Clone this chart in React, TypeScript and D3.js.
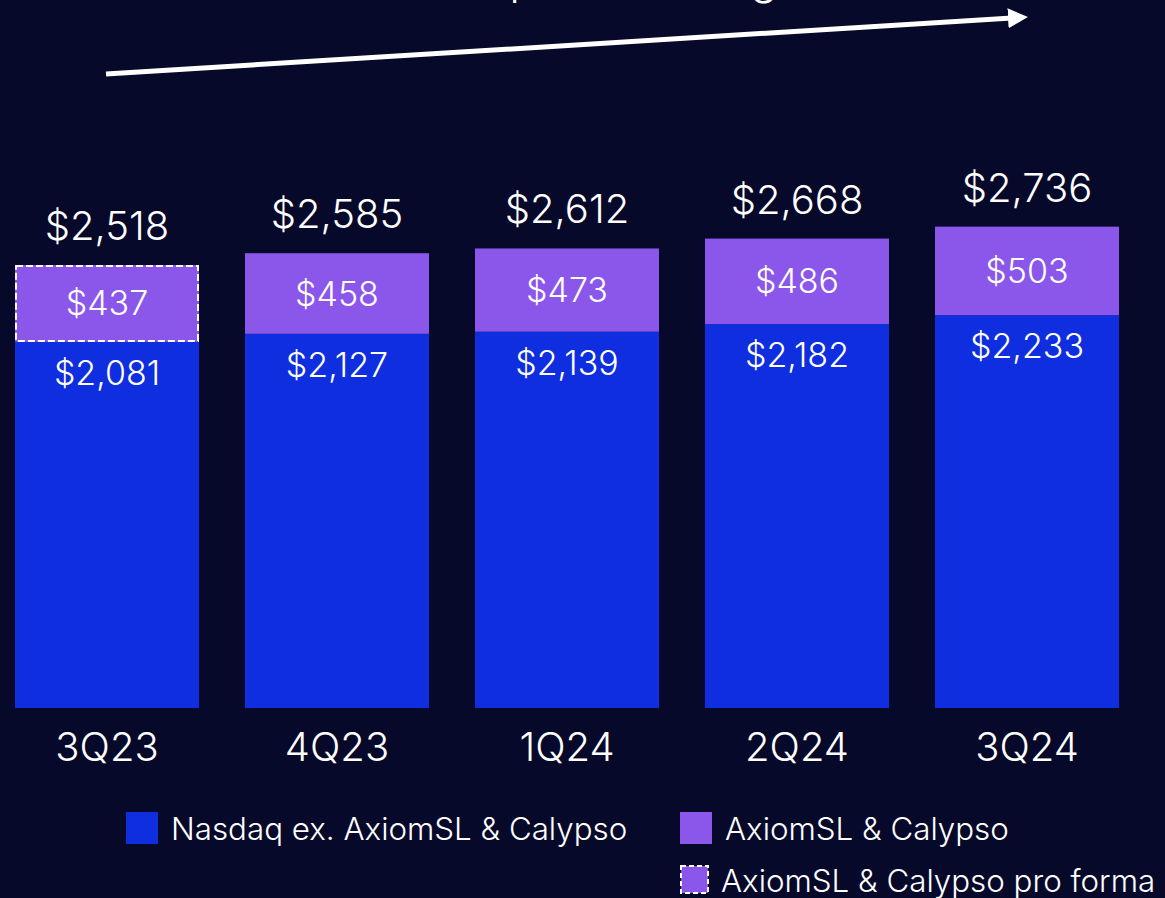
import React from "react";
import * as d3 from "d3";

const categories = ["3Q23", "4Q23", "1Q24", "2Q24", "3Q24"];
const nasdaqEx = [2081, 2127, 2139, 2182, 2233];
const axiom = [437, 458, 473, 486, 503];
const totals = [2518, 2585, 2612, 2668, 2736];
const proForma = [true, false, false, false, false];
const legendItems = ["Nasdaq ex. AxiomSL & Calypso", "AxiomSL & Calypso", "AxiomSL & Calypso pro forma"];

const W = 1165;
const H = 898;
const BG = "#07092a";
const BLUE = "#0e2ee0";
const PURPLE = "#8b57eb";
const FONT = "Inter, 'Noto Sans', sans-serif";

const fmt = (v: number) => "$" + d3.format(",")(v);

const App = () => {
  const x = d3.scaleBand<string>().domain(categories).range([-8, 1142]).paddingInner(0.2).paddingOuter(0.1);
  const y = d3.scaleLinear().domain([0, 2518]).range([708, 265]);
  const bw = x.bandwidth();

  return (
    <svg width={W} height={H} style={{ position: "absolute", left: 0, top: 0, background: BG }}>
      <rect width={W} height={H} fill={BG} />
      <defs>
        <marker id="arrow" viewBox="0 0 10 10" refX="2" refY="5" markerWidth="4" markerHeight="4" orient="auto">
          <path d="M0,0 L10,5 L0,10 z" fill="#fff" />
        </marker>
      </defs>
      <text x={340} y={-6} fill="#fff" fontFamily={FONT} fontWeight={300} fontSize={44}>
        8% compound ARR growth
      </text>
      <line x1={106} y1={74} x2={1012} y2={18} stroke="#fff" strokeWidth={5} markerEnd="url(#arrow)" />

      {categories.map((c, i) => {
        const x0 = x(c)!;
        const cx = x0 + bw / 2;
        const yBlue = y(nasdaqEx[i]);
        const yTop = y(totals[i]);
        return (
          <g key={c}>
            <rect x={x0} y={yBlue} width={bw} height={708 - yBlue} fill={BLUE} />
            <rect x={x0} y={yTop} width={bw} height={yBlue - yTop} fill={PURPLE} />
            {proForma[i] && (
              <rect x={x0 + 1} y={yTop + 1} width={bw - 2} height={yBlue - yTop - 2} fill="none" stroke="#fff" strokeWidth={2} strokeDasharray="7,3" />
            )}
            <text x={cx} y={(yTop + yBlue) / 2 + 12} textAnchor="middle" fill="#fff" fontFamily={FONT} fontWeight={300} fontSize={34}>
              {fmt(axiom[i])}
            </text>
            <text x={cx} y={yBlue + 43} textAnchor="middle" fill="#fff" fontFamily={FONT} fontWeight={300} fontSize={34}>
              {fmt(nasdaqEx[i])}
            </text>
            <text x={cx} y={yTop - 25} textAnchor="middle" fill="#fff" fontFamily={FONT} fontWeight={300} fontSize={40}>
              {fmt(totals[i])}
            </text>
            <text x={cx} y={761} textAnchor="middle" fill="#fff" fontFamily={FONT} fontWeight={300} fontSize={40}>
              {c}
            </text>
          </g>
        );
      })}

      <rect x={126} y={812} width={32} height={32} fill={BLUE} />
      <text x={171} y={840} fill="#fff" fontFamily={FONT} fontWeight={300} fontSize={31.3}>{legendItems[0]}</text>
      <rect x={680} y={812} width={32} height={32} fill={PURPLE} />
      <text x={725} y={840} fill="#fff" fontFamily={FONT} fontWeight={300} fontSize={31.3}>{legendItems[1]}</text>
      <rect x={681} y={866} width={27} height={27} fill={PURPLE} stroke="#fff" strokeWidth={2} strokeDasharray="5,3" />
      <text x={721} y={892} fill="#fff" fontFamily={FONT} fontWeight={300} fontSize={31.3}>{legendItems[2]}</text>
    </svg>
  );
};

export default App;
